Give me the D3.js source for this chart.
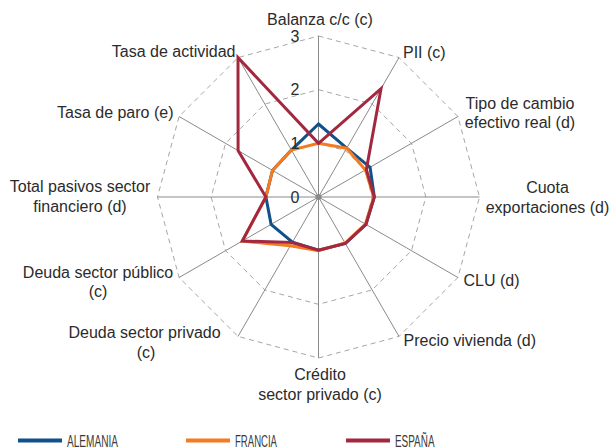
<!DOCTYPE html>
<html>
<head>
<meta charset="utf-8">
<script src="https://cdn.jsdelivr.net/npm/d3@7"></script>
<style>
  html, body { margin: 0; padding: 0; background: #fff; }
  svg { display: block; font-family: "Liberation Sans", Arial, Helvetica, sans-serif; }
</style>
</head>
<body>
<svg id="chart" width="612" height="448"></svg>
<script>
// ---- data ----
const categories = [
  "Balanza c/c (c)", "PII (c)", "Tipo de cambio efectivo real (d)", "Cuota exportaciones (d)",
  "CLU (d)", "Precio vivienda (d)", "Crédito sector privado (c)", "Deuda sector privado (c)",
  "Deuda sector público (c)", "Total pasivos sector financiero (d)", "Tasa de paro (e)", "Tasa de actividad"
];
const seriesNames = ["ALEMANIA", "FRANCIA", "ESPAÑA"];
const alemania = [1.36, 1.05, 1.11, 1.04, 1.02, 1.0, 0.99, 0.97, 1.02, 0.98, 0.99, 1.01];
const francia  = [1.0, 1.05, 1.01, 1.03, 1.01, 0.99, 1.0, 1.05, 1.64, 0.98, 0.99, 1.01];
const espana   = [1.0, 2.33, 1.03, 1.04, 1.02, 1.0, 0.99, 0.98, 1.64, 0.98, 1.73, 3.0];
const tickValues = [0, 1, 2, 3];
const tickLabels = ["0", "1", "2", "3"];

// ---- layout ----
const colors = ["#12508a", "#f37b21", "#a3283f"];
const cx = 318.5, cy = 197, R = 161;
// label lines and placement: [lines, x, firstBaseline, anchor]
const labelLayout = [
  [["Balanza c/c (c)"], 320, 25, "middle"],
  [["PII (c)"], 403, 57.5, "start"],
  [["Tipo de cambio", "efectivo real (d)"], 520, 108.5, "middle"],
  [["Cuota", "exportaciones (d)"], 547.5, 193, "middle"],
  [["CLU (d)"], 463.5, 285.5, "start"],
  [["Precio vivienda (d)"], 403.5, 346, "start"],
  [["Crédito", "sector privado (c)"], 320, 380, "middle"],
  [["Deuda sector privado", "(c)"], [68.5, 146], 338, ["start", "middle"]],
  [["Deuda sector público", "(c)"], 98, 277.5, "middle"],
  [["Total pasivos sector", "financiero (d)"], 80, 192, "middle"],
  [["Tasa de paro (e)"], 173.5, 117.5, "end"],
  [["Tasa de actividad"], 235.5, 57, "end"]
];
const lineGap = 19.5;

const svg = d3.select("#chart");
const g = svg.append("g").attr("transform", `translate(${cx},${cy})`);
const r = d3.scaleLinear().domain([0, 3]).range([0, R]);
const angle = d3.scalePoint().domain(d3.range(categories.length)).range([0, 2 * Math.PI * (categories.length - 1) / categories.length]);

// grid rings
const ring = d3.lineRadial().angle((d, i) => angle(i)).radius(d => r(d)).curve(d3.curveLinearClosed);
tickValues.filter(v => v > 0).forEach(v => {
  g.append("path")
    .attr("d", ring(categories.map(() => v)))
    .attr("fill", "none")
    .attr("stroke", "#a6a6a6")
    .attr("stroke-width", 1)
    .attr("stroke-dasharray", "5,4");
});

// spokes
g.selectAll("line.spoke").data(categories).join("line")
  .attr("class", "spoke")
  .attr("x1", 0).attr("y1", 0)
  .attr("x2", (d, i) => r(3) * Math.sin(angle(i)))
  .attr("y2", (d, i) => -r(3) * Math.cos(angle(i)))
  .attr("stroke", "#8a8a8a")
  .attr("stroke-width", 1);

g.append("circle").attr("r", 3).attr("fill", "#8a8a8a");

// series
const allSeries = [alemania, francia, espana];
allSeries.forEach((vals, si) => {
  g.append("path")
    .attr("d", ring(vals))
    .attr("fill", "none")
    .attr("stroke", colors[si])
    .attr("stroke-width", 3)
    .attr("stroke-linejoin", "miter");
});

// tick labels
g.selectAll("text.tick").data(tickValues).join("text")
  .attr("class", "tick")
  .attr("x", -23.5)
  .attr("y", d => -r(d))
  .attr("dy", "0.36em")
  .attr("text-anchor", "middle")
  .attr("font-size", 16)
  .attr("fill", "#2b2b2b")
  .text((d, i) => tickLabels[i]);

// category labels
labelLayout.forEach((L, i) => {
  const [lines, xs, y0, anchors] = L;
  lines.forEach((t, j) => {
    svg.append("text")
      .attr("x", Array.isArray(xs) ? xs[j] : xs)
      .attr("y", y0 + j * lineGap)
      .attr("text-anchor", Array.isArray(anchors) ? anchors[j] : anchors)
      .attr("font-size", 16)
      .attr("fill", "#2b2b2b")
      .text(t);
  });
});

// legend
const legendX = [18, 186, 346];
const legendTextLen = [51, 42, 39.5];
seriesNames.forEach((name, i) => {
  svg.append("line")
    .attr("x1", legendX[i]).attr("x2", legendX[i] + 44)
    .attr("y1", 440.5).attr("y2", 440.5)
    .attr("stroke", colors[i]).attr("stroke-width", 4);
  svg.append("text")
    .attr("x", legendX[i] + 49)
    .attr("y", 446.5)
    .attr("font-size", 16.5)
    .attr("fill", "#3a3a3a")
    .attr("textLength", legendTextLen[i])
    .attr("lengthAdjust", "spacingAndGlyphs")
    .text(name);
});
</script>
</body>
</html>
